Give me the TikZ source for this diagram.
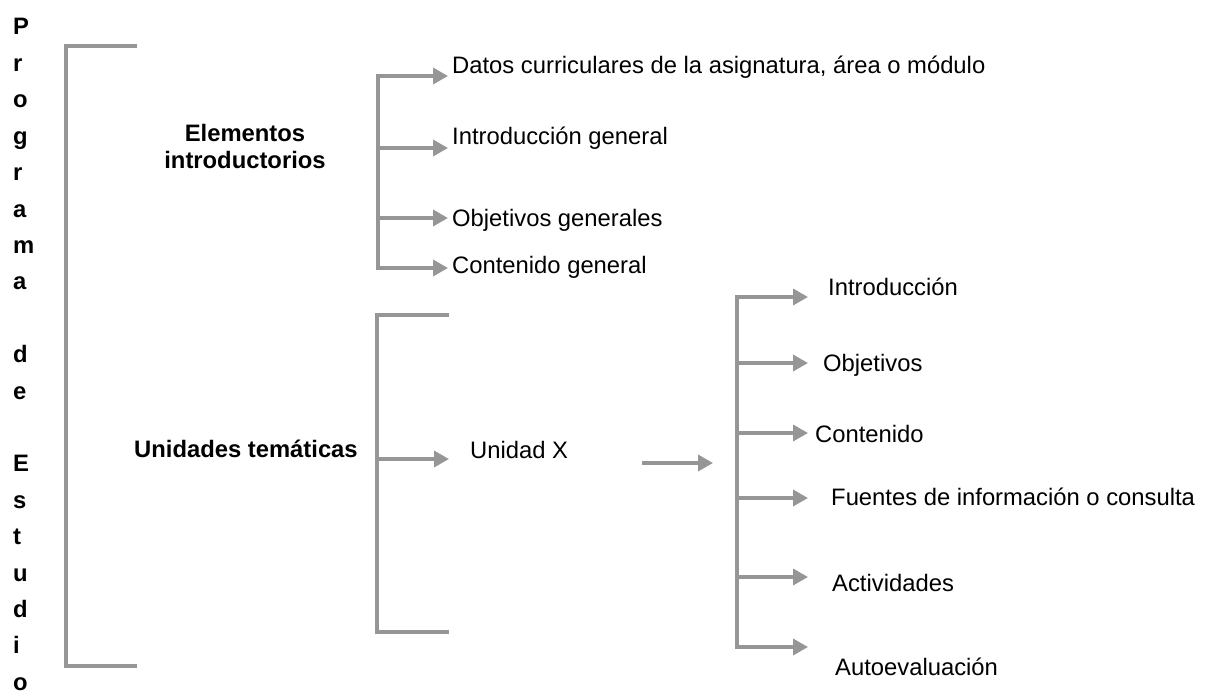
\documentclass[tikz,border=0pt]{standalone}
\usepackage{fontspec}
\setmainfont{Liberation Sans}
\usetikzlibrary{arrows.meta}
\definecolor{linegray}{RGB}{150,150,150}
\tikzset{
  bracket/.style={draw=linegray, line width=3.5pt, line join=miter},
  spine/.style={bracket, line cap=rect},
  flecha/.style={bracket, -{Triangle[length=15pt,width=16pt]}},
  etiqueta/.style={anchor=base west, inner sep=0pt, font=\fontsize{23.8}{28}\selectfont},
  titulo/.style={etiqueta, font=\bfseries\fontsize{23.8}{28}\selectfont},
}
\begin{document}
\begin{tikzpicture}[x=1pt, y=-1pt]
    \useasboundingbox (0,0) rectangle (1214,695);

    % titulo vertical
    \foreach \i/\l in {1/P,2/r,3/o,4/g,5/r,6/a,7/m,8/a,10/d,11/e,13/E,14/s,15/t,16/u,17/d,18/i,19/o}
        \node [titulo] (t\i) at (13, 35+36.4*\i-36.4) {\l};
    \draw [bracket] (137,46) -- (66,46) -- (66,666) -- (137,666);

    \node [titulo, anchor=north, align=center, font=\bfseries\fontsize{23.8}{27}\selectfont] (elem) at (245,124) {Elementos\\introductorios};
    \node [titulo] (unid) at (134,457) {Unidades temáticas};

    % elementos introductorios
    \foreach \n/\y in {1/76, 2/148, 3/218, 4/268} {
        \coordinate (ea\n) at (378,\y);
        \coordinate (eb\n) at (448,\y);
        \draw [flecha] (ea\n) -- (eb\n);
    }
    \draw [spine] (ea1) -- (ea4);
    \node [etiqueta] (dat)  at (452,73.5) {Datos curriculares de la asignatura, área o módulo};
    \node [etiqueta] (intg) at (452,145) {Introducción general};
    \node [etiqueta] (objg) at (452,226) {Objetivos generales};
    \node [etiqueta] (cong) at (452,273) {Contenido general};

    % unidades tematicas
    \coordinate (ua) at (377,459);
    \coordinate (ub) at (449,459);
    \draw [bracket] (449,315) -- (377,315) -- (377,632) -- (449,632);
    \draw [flecha] (ua) -- (ub);
    \node [etiqueta] (unx) at (470,458) {Unidad X};
    \coordinate (xa) at (642,463);
    \coordinate (xb) at (713,463);
    \draw [flecha] (xa) -- (xb);

    % contenido de la unidad
    \foreach \n/\y in {1/297, 2/363, 3/433, 4/498, 5/577, 6/647} {
        \coordinate (ra\n) at (737,\y);
        \coordinate (rb\n) at (808,\y);
        \draw [flecha] (ra\n) -- (rb\n);
    }
    \draw [spine] (ra1) -- (ra6);
    \node [etiqueta] (intro) at (828,295) {Introducción};
    \node [etiqueta] (obj)   at (823,371) {Objetivos};
    \node [etiqueta] (cont)  at (815,442) {Contenido};
    \node [etiqueta] (fuen)  at (831,505) {Fuentes de información o consulta};
    \node [etiqueta] (activ) at (832,591) {Actividades};
    \node [etiqueta] (autoe) at (835,675) {Autoevaluación};
\end{tikzpicture}
\end{document}
